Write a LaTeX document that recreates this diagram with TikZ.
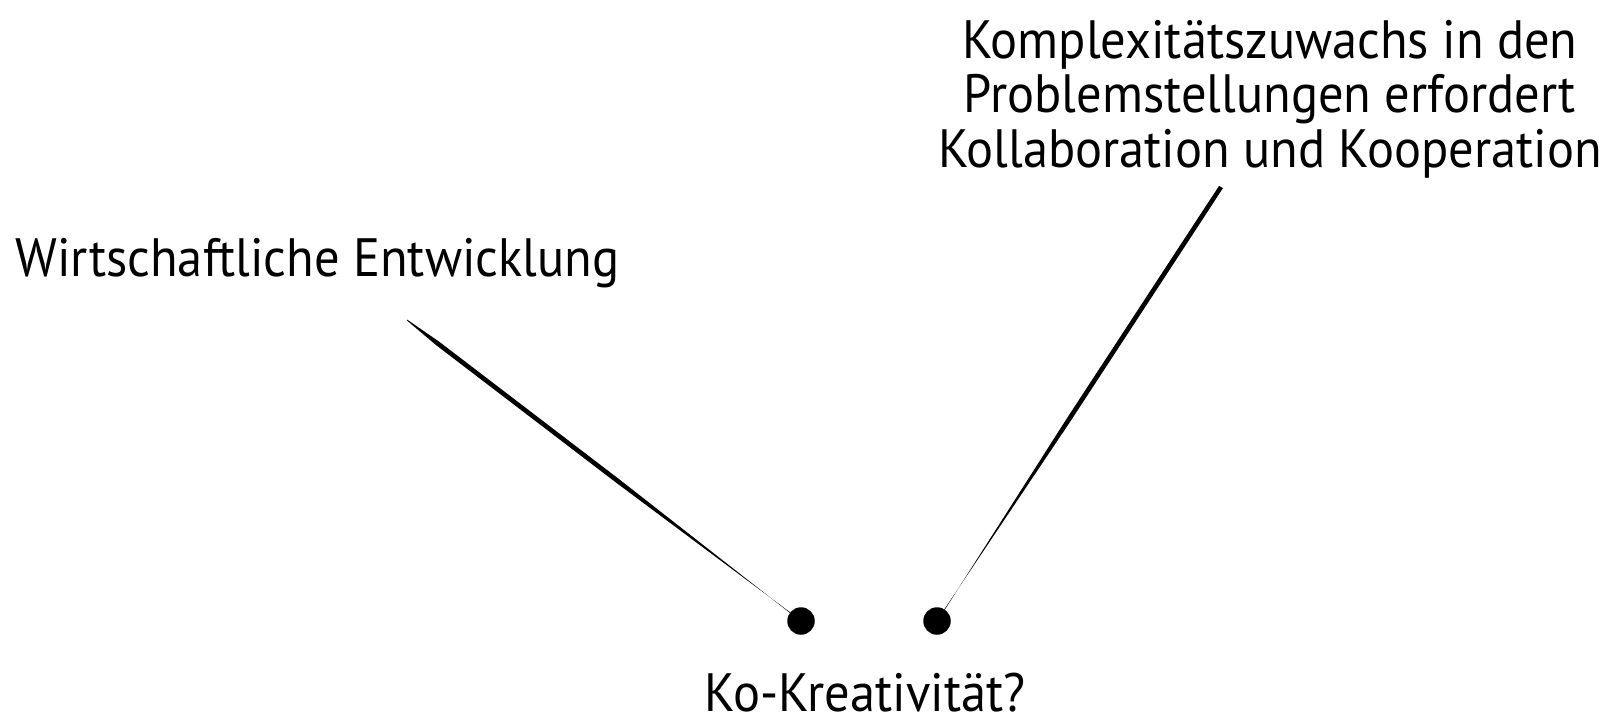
\documentclass[tikz,border=0pt]{standalone}
\usepackage{fontspec}
\setmainfont[FakeStretch=0.935]{PT Sans}
\usetikzlibrary{calc}
\tikzset{
  label text/.style={inner sep=0pt, font=\fontsize{54}{54.5}\selectfont},
  dotnode/.style={circle, fill=black, minimum size=27.5pt, inner sep=0pt},
}
% tapered ink stroke from #1 (start) to #2 (end);
% #3 = half width at the start, #4 = half width along the body
\newcommand{\inkstroke}[4]{%
  \fill ($(#1)!#3!90:(#2)$)
    -- ($(#1)!0.08!(#2)!#4!90:(#2)$)
    -- ($(#1)!0.55!(#2)!#4!90:(#2)$)
    -- ($(#2)!0.3pt!90:(#1)$)
    -- ($(#2)!0.3pt!-90:(#1)$)
    -- ($(#1)!0.55!(#2)!#4!-90:(#2)$)
    -- ($(#1)!0.08!(#2)!#4!-90:(#2)$)
    -- ($(#1)!#3!-90:(#2)$)
    -- cycle;}
\begin{document}
\begin{tikzpicture}[x=1pt,y=-1pt]
  \useasboundingbox[fill=white] (0,0) rectangle (1604,721);
  \node[label text, anchor=base west] (econ) at (15,276) {Wirtschaftliche Entwicklung};
  \node[label text, align=center, anchor=north] (complex) at (1270,20)
    {Komplexitätszuwachs in den\\Problemstellungen erfordert\\Kollaboration und Kooperation};
  \node[label text, anchor=base] (ko) at (865,711) {Ko-Kreativität?};
  \node[dotnode] (d1) at (801,621) {};
  \node[dotnode] (d2) at (937,621) {};
  \coordinate (s1) at (407,320);
  \coordinate (s2) at (1221,187);
  \coordinate (e1) at ($(d1)!13.5pt!(s1)$);
  \coordinate (e2) at ($(d2)!13.5pt!(s2)$);
  \inkstroke{s1}{e1}{0.4pt}{2.3pt}
  \inkstroke{s2}{e2}{2.2pt}{2.3pt}
\end{tikzpicture}
\end{document}
